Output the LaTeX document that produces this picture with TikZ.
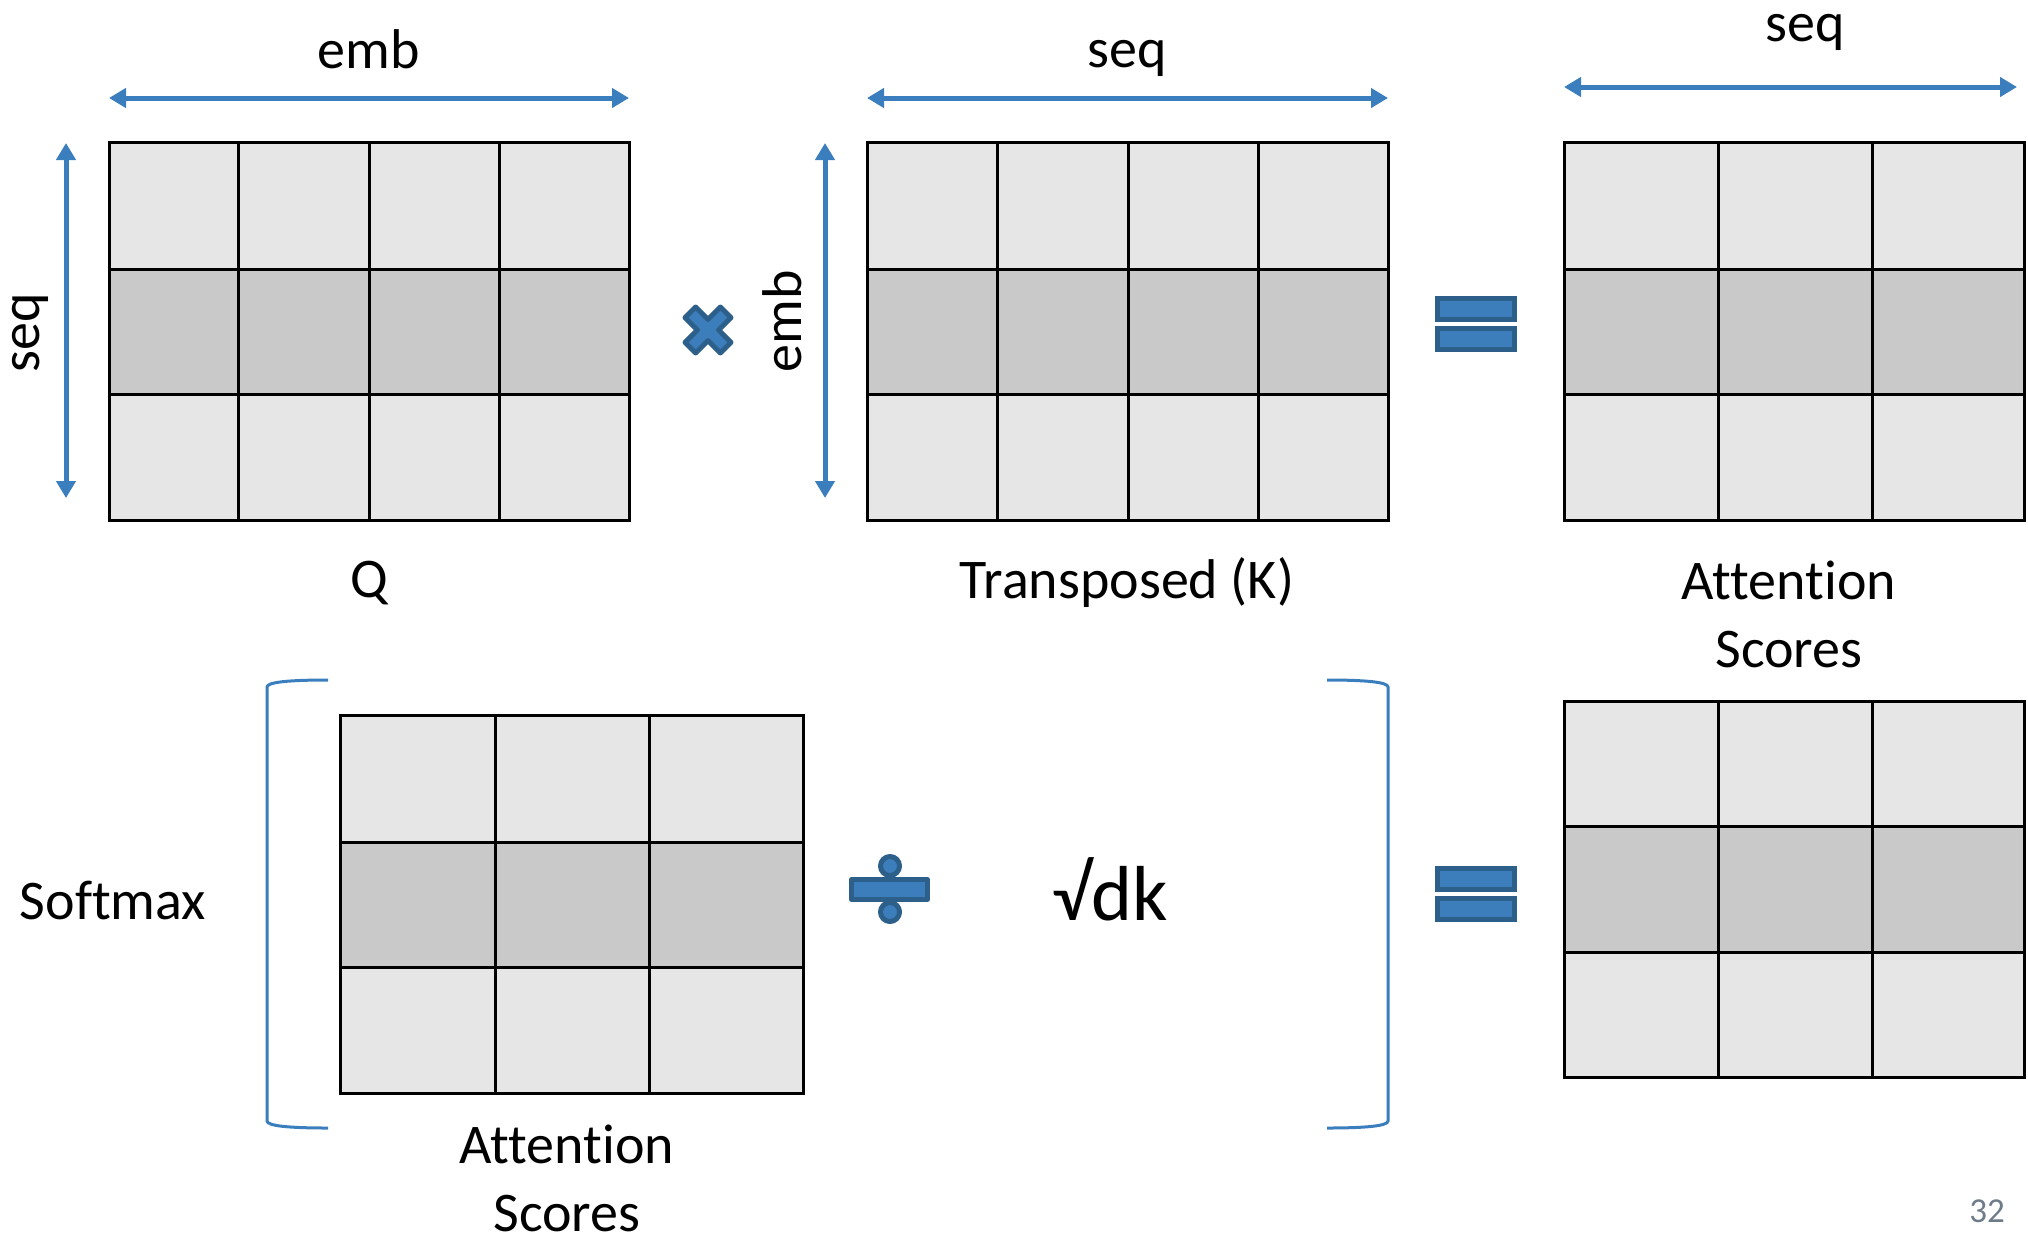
\documentclass[tikz,border=0pt]{standalone}
\usepackage{fontspec}
\setmainfont{Carlito}[Ligatures={NoCommon}]
\usetikzlibrary{arrows.meta}
\definecolor{arrowblue}{HTML}{3A7EBE}
\definecolor{opfill}{HTML}{3C7EBB}
\definecolor{opline}{HTML}{2C5F8A}
\definecolor{cellL}{HTML}{E6E6E6}
\definecolor{cellD}{HTML}{C9C9C9}
\definecolor{pagegray}{HTML}{6E7B88}
\tikzset{
  gridline/.style={draw=black,line width=3pt},
  dimarrow/.style={arrowblue,line width=5pt,{Triangle[length=17pt,width=19pt]}-{Triangle[length=17pt,width=19pt]}},
  brack/.style={arrowblue,line width=3pt},
  opshape/.style={fill=opfill,draw=opline,line width=5pt,line join=round},
  lbl/.style={font=\fontsize{56}{68}\selectfont,inner sep=0pt,align=center},
}
\begin{document}
\begin{tikzpicture}[x=1pt,y=-1pt]
\useasboundingbox (0,0) rectangle (2028,1243);
% ---- Q matrix ----
\fill[cellL] (109,142) rectangle (629,520);
\fill[cellD] (109,269) rectangle (629,394);
\draw[gridline] (109,142) rectangle (629,520);
\draw[gridline] (109,269) -- (629,269) (109,394) -- (629,394);
\foreach \x in {238,369,499} \draw[gridline] (\x,142) -- (\x,520);
% ---- K^T matrix ----
\fill[cellL] (867,142) rectangle (1388,520);
\fill[cellD] (867,269) rectangle (1388,394);
\draw[gridline] (867,142) rectangle (1388,520);
\draw[gridline] (867,269) -- (1388,269) (867,394) -- (1388,394);
\foreach \x in {997,1128,1258} \draw[gridline] (\x,142) -- (\x,520);
% ---- top attention matrix ----
\fill[cellL] (1564,142) rectangle (2024,520);
\fill[cellD] (1564,269) rectangle (2024,394);
\draw[gridline] (1564,142) rectangle (2024,520);
\draw[gridline] (1564,269) -- (2024,269) (1564,394) -- (2024,394);
\foreach \x in {1718,1872} \draw[gridline] (\x,142) -- (\x,520);
% ---- bottom-left matrix ----
\fill[cellL] (340,715) rectangle (803,1093);
\fill[cellD] (340,842) rectangle (803,967);
\draw[gridline] (340,715) rectangle (803,1093);
\draw[gridline] (340,842) -- (803,842) (340,967) -- (803,967);
\foreach \x in {495,649} \draw[gridline] (\x,715) -- (\x,1093);
% ---- bottom-right matrix ----
\fill[cellL] (1564,701) rectangle (2024,1077);
\fill[cellD] (1564,826) rectangle (2024,952);
\draw[gridline] (1564,701) rectangle (2024,1077);
\draw[gridline] (1564,826) -- (2024,826) (1564,952) -- (2024,952);
\foreach \x in {1718,1872} \draw[gridline] (\x,701) -- (\x,1077);
% ---- dimension arrows ----
\coordinate (eA) at (109,98);  \coordinate (eB) at (629,98);
\coordinate (sA) at (867,98);  \coordinate (sB) at (1388,98);
\coordinate (rA) at (1564,87); \coordinate (rB) at (2017,87);
\coordinate (vA) at (66,143);  \coordinate (vB) at (66,498);
\coordinate (wA) at (825,143); \coordinate (wB) at (825,498);
\draw[dimarrow] (eA) -- (eB);
\draw[dimarrow] (sA) -- (sB);
\draw[dimarrow] (rA) -- (rB);
\draw[dimarrow] (vA) -- (vB);
\draw[dimarrow] (wA) -- (wB);
% ---- dimension labels ----
\node[lbl] (lemb) at (369,49) {emb};
\node[lbl] (lseq) at (1127,58) {seq};
\node[lbl] (lseqr) at (1805,32) {seq};
\node[lbl,rotate=90] (lseqv) at (30,333) {seq};
\node[lbl,rotate=90] (lembv) at (782,321) {emb};
% ---- matrix labels ----
\node[lbl] (lq) at (369,583) {Q};
\node[lbl] (lk) at (1127,583) {Transposed (K)};
\node[lbl] (lat) at (1789,614) {Attention\\Scores};
\node[lbl] (lab) at (567,1178) {Attention\\Scores};
\node[lbl] (lsm) at (113,900) {Softmax};
\node[lbl,font=\fontsize{78}{90}\selectfont] (ldk) at (1110,889) {√dk};
\node[inner sep=0pt,text=pagegray,font=\fontsize{35}{40}\selectfont] (pg) at (1987,1211) {32};
% ---- multiply sign ----
\begin{scope}[shift={(708,330)},rotate=45]
\draw[opshape] (7.5,-25) -- (7.5,-7.5) -- (25,-7.5) -- (25,7.5) -- (7.5,7.5) -- (7.5,25) -- (-7.5,25) -- (-7.5,7.5) -- (-25,7.5) -- (-25,-7.5) -- (-7.5,-7.5) -- (-7.5,-25) -- cycle;
\end{scope}
% ---- equals signs ----
\draw[opshape,line join=miter] (1437.5,298.5) rectangle (1514.5,319.5);
\draw[opshape,line join=miter] (1437.5,328.5) rectangle (1514.5,349.5);
\draw[opshape,line join=miter] (1437.5,868.5) rectangle (1514.5,889.5);
\draw[opshape,line join=miter] (1437.5,898.5) rectangle (1514.5,919.5);
% ---- divide sign ----
\draw[opshape] (890,866) circle (9.5);
\draw[opshape] (890,912) circle (9.5);
\draw[opshape] (851.5,879.5) rectangle (927.5,899.5);
% ---- brackets ----
\draw[brack] (328,680) .. controls (290,680) and (267,682) .. (267,687) -- (267,1121) .. controls (267,1126) and (290,1128) .. (328,1128);
\draw[brack] (1327,680) .. controls (1365,680) and (1388,682) .. (1388,687) -- (1388,1121) .. controls (1388,1126) and (1365,1128) .. (1327,1128);
\end{tikzpicture}
\end{document}
